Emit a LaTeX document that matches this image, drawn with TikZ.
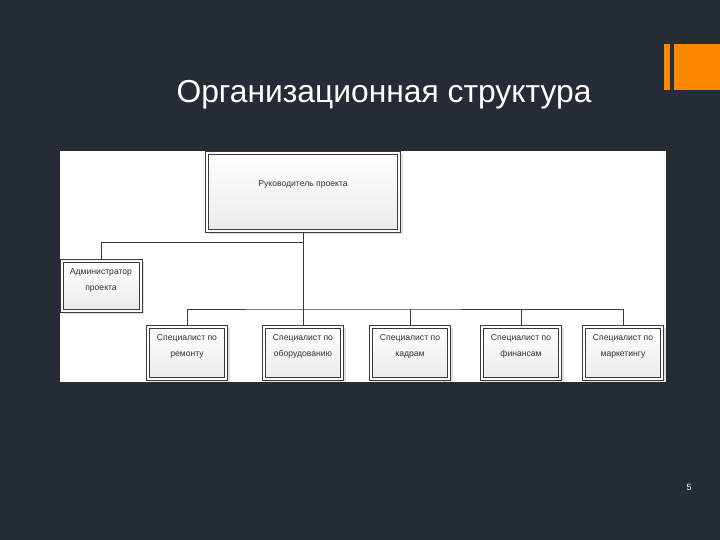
\documentclass[tikz,border=0pt]{standalone}
\usepackage{fontspec}
\setmainfont{Liberation Sans}
\definecolor{slidebg}{RGB}{37,44,52}
\definecolor{accent}{RGB}{255,136,0}
\definecolor{boxline}{RGB}{58,58,58}
\definecolor{boxtext}{RGB}{50,50,50}
\begin{document}
\begin{tikzpicture}[x=1pt,y=-1pt,
  orgbox/.style={draw=boxline, line width=0.7pt, fill=white, align=center, text=boxtext,
    font=\fontsize{8.6}{16}\selectfont, inner sep=3pt,
    path picture={\draw[boxline, line width=0.7pt, top color=white, bottom color=gray!16]
      ([shift={(3pt,-3pt)}]path picture bounding box.north west) rectangle
      ([shift={(-3pt,3pt)}]path picture bounding box.south east);}},
  onebox/.style={orgbox, text height=6.5pt},
  twobox/.style={orgbox, text height=22.5pt},
  conn/.style={draw=boxline, line width=0.7pt},
  shade/.style={fill=black, opacity=0.12}]
\useasboundingbox (0,0) rectangle (720,540);
\fill[slidebg] (0,0) rectangle (720,540);
% accent
\fill[accent] (664,44) rectangle (670,90);
\fill[accent] (674,44) rectangle (720,90);
% title
\node[anchor=base, text=white, font=\fontsize{31.8}{38}\selectfont, inner sep=0pt] (title) at (384,103) {Организационная структура};
% panel
\fill[white] (60,151) rectangle (666,382);
% soft shadows
\fill[shade] (209,154) rectangle (403,234);
\fill[shade] (63,262) rectangle (144,314);
\foreach \cx in {187,303,410,521,623}{\fill[shade] (\cx-38.5,328) rectangle (\cx+43,382);}
% boxes
\node[onebox, minimum width=195pt, minimum height=81pt, text depth=15.5pt] (top) at (303,191.5) {Руководитель проекта};
\node[twobox, minimum width=82pt, minimum height=53pt, text depth=13.5pt] (admin) at (101,285.5) {Администратор\\проекта};
\node[twobox, minimum width=81pt, minimum height=55pt, text depth=15.5pt] (b1) at (187,352.5) {Специалист по\\ремонту};
\node[twobox, minimum width=81pt, minimum height=55pt, text depth=15.5pt] (b2) at (303,352.5) {Специалист по\\оборудованию};
\node[twobox, minimum width=81pt, minimum height=55pt, text depth=15.5pt] (b3) at (410,352.5) {Специалист по\\кадрам};
\node[twobox, minimum width=81pt, minimum height=55pt, text depth=15.5pt] (b4) at (521,352.5) {Специалист по\\финансам};
\node[twobox, minimum width=81pt, minimum height=55pt, text depth=15.5pt] (b5) at (623,352.5) {Специалист по\\маркетингу};
% connectors
\coordinate (aj) at (303,242);
\coordinate (bj) at (303,309);
\draw[conn] (top.south) -- (b2.north);
\draw[conn] (aj) -| (admin.north);
\draw[conn] (b1.north) |- (bj) -| (b5.north);
\draw[conn] (b3.north) -- (b3.north |- bj);
\draw[conn] (b4.north) -- (b4.north |- bj);
% page number
\node[text=white, font=\fontsize{9}{10}\selectfont] (pg) at (689,487) {5};
\end{tikzpicture}
\end{document}
